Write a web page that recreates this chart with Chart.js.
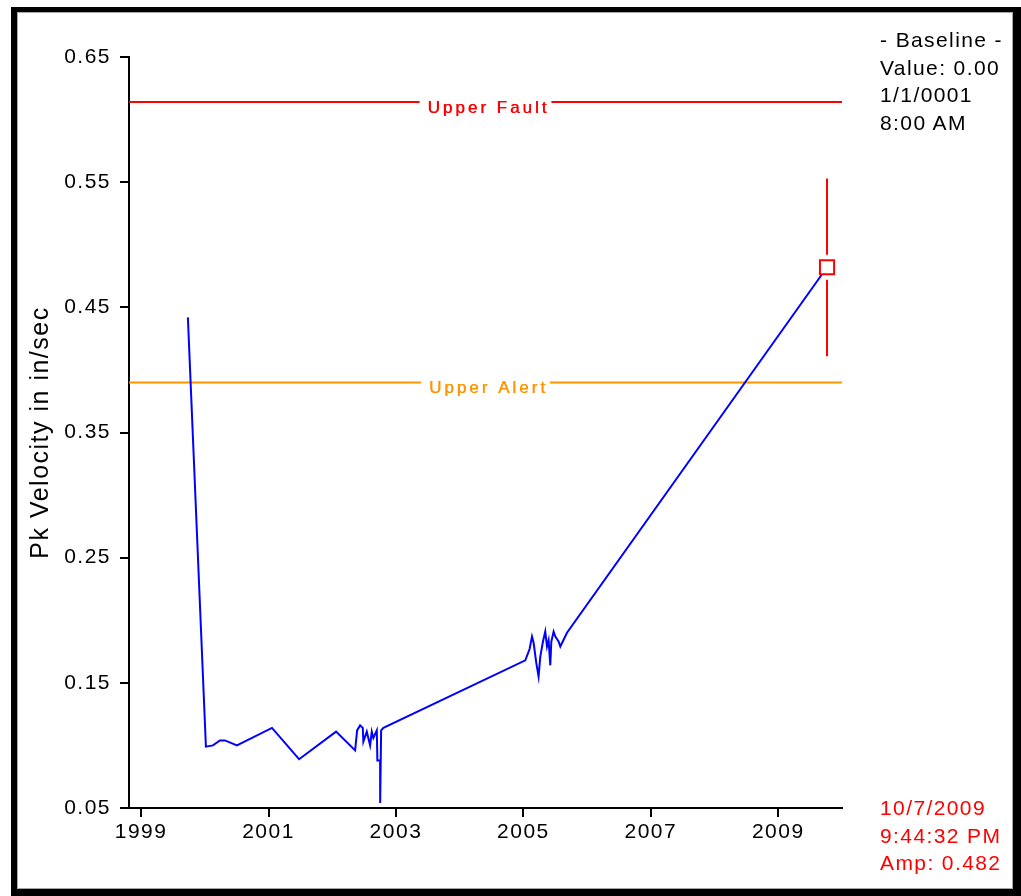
<!DOCTYPE html>
<html>
<head>
<meta charset="utf-8">
<script src="https://cdn.jsdelivr.net/npm/chart.js@4.4.0/dist/chart.umd.min.js"></script>
<style>
body { margin: 0; background: #fff; }
#wrap { position: relative; width: 1021px; height: 896px; overflow: hidden; }
#myChart { position: absolute; left: 0; top: 0; }
#frame {
    position: absolute; left: 11px; top: 7px; width: 1010px; height: 889px;
    box-sizing: border-box; border-style: solid; border-color: #000;
    border-width: 5px 8px 7px 6px; box-shadow: inset 0 0 0 1px #a8a8a8;
    pointer-events: none;
}
.side {
    position: absolute; left: 880px; font: 21px "Liberation Sans", Arial, sans-serif;
    letter-spacing: 1.4px; line-height: 27.5px; white-space: nowrap;
}
#baseline { top: 26px; color: #000; }
#cursorInfo { top: 794px; color: #ff0000; }
</style>
</head>
<body>
<div id="wrap">
    <canvas id="myChart" width="1021" height="896"></canvas>
    <div id="frame"></div>
    <div class="side" id="baseline">- Baseline -<br>Value: 0.00<br>1/1/0001<br>8:00 AM</div>
    <div class="side" id="cursorInfo">10/7/2009<br>9:44:32 PM<br>Amp: 0.482</div>
</div>
<script>
// axis ticks
var tickYears = [1999, 2001, 2003, 2005, 2007, 2009];
var tickAmps = [0.05, 0.15, 0.25, 0.35, 0.45, 0.55, 0.65];
var yearMin = 1998.81, yearMax = 2010.0;
var ampMin = 0.05, ampMax = 0.65;

// trend samples (decimal year, pk velocity)
var sampleYears = [
    1999.734, 2000.017, 2000.127, 2000.237, 2000.316, 2000.504, 2001.054, 2001.479,
    2002.060, 2002.359, 2002.390, 2002.437, 2002.479, 2002.488, 2002.542, 2002.594,
    2002.620, 2002.645, 2002.699, 2002.708, 2002.751, 2002.752, 2002.767, 2002.803,
    2005.030, 2005.097, 2005.135, 2005.160, 2005.202, 2005.238, 2005.265, 2005.307,
    2005.343, 2005.370, 2005.395, 2005.422, 2005.438, 2005.474, 2005.501, 2005.552,
    2005.579, 2005.684, 2009.765
];
var sampleAmps = [
    0.442, 0.099, 0.100, 0.104, 0.104, 0.100, 0.114, 0.089,
    0.111, 0.096, 0.112, 0.116, 0.114, 0.103, 0.111, 0.100,
    0.111, 0.106, 0.112, 0.088, 0.088, 0.054, 0.112, 0.114,
    0.168, 0.177, 0.187, 0.182, 0.166, 0.155, 0.171, 0.183,
    0.191, 0.179, 0.184, 0.164, 0.183, 0.191, 0.187, 0.183,
    0.179, 0.190, 0.482
];

// alarm levels
var faultLevel = 0.614;
var alertLevel = 0.390;

// cursor
var cursorYear = 2009.765;
var cursorAmp = 0.482;
var cursorLow = 0.411;
var cursorHigh = 0.553;

var fontFam = '"Liberation Sans", Arial, sans-serif';
var faultColor = '#ff0000';
var alertColor = '#ff9400';

const trendPoints = sampleYears.map((yr, i) => ({x: yr, y: sampleAmps[i]}));

// letter spacing for axis text
const spacing = {
    id: 'spacing',
    beforeDraw(chart) {
        chart.ctx.letterSpacing = '1.5px';
    }
};

// level labels sit on the lines
const levelLabels = {
    id: 'levelLabels',
    afterDatasetsDraw(chart) {
        const ctx = chart.ctx;
        const area = chart.chartArea;
        ctx.save();
        ctx.font = '17px ' + fontFam;
        ctx.letterSpacing = '3px';
        ctx.textAlign = 'center';
        ctx.textBaseline = 'middle';
        [['Upper Fault', faultLevel, faultColor], ['Upper Alert', alertLevel, alertColor]].forEach(function (l) {
            const y = chart.scales.y.getPixelForValue(l[1]);
            const x = (area.left + area.right) / 2;
            const w = ctx.measureText(l[0]).width + 10;
            ctx.fillStyle = '#fff';
            ctx.fillRect(x - w / 2, y - 3, w, 6);
            ctx.fillStyle = l[2];
            ctx.fillText(l[0], x + 3, y + 6);
            ctx.fillText(l[0], x + 3.4, y + 6);
        });
        ctx.restore();
    }
};

const ctx = document.getElementById('myChart').getContext('2d');
var myChart = new Chart(ctx, {
    type: 'line',
    data: {
        datasets: [{
            // cursor marker
            data: [{x: cursorYear, y: cursorAmp}],
            showLine: false,
            pointStyle: 'rect',
            pointRadius: 10,
            pointBorderWidth: 2,
            pointBorderColor: faultColor,
            pointBackgroundColor: '#fff',
            order: 0
        }, {
            data: trendPoints,
            borderColor: '#0000ff',
            borderWidth: 2,
            pointRadius: 0,
            tension: 0,
            order: 1
        }, {
            // cursor range bar
            data: [
                {x: cursorYear, y: cursorHigh}, {x: cursorYear, y: cursorAmp + 0.01},
                {x: cursorYear, y: null},
                {x: cursorYear, y: cursorAmp - 0.01}, {x: cursorYear, y: cursorLow}
            ],
            borderColor: faultColor,
            borderWidth: 2,
            pointRadius: 0,
            spanGaps: false,
            order: 2
        }, {
            data: [{x: yearMin, y: faultLevel}, {x: yearMax, y: faultLevel}],
            borderColor: faultColor,
            borderWidth: 2,
            pointRadius: 0,
            order: 3
        }, {
            data: [{x: yearMin, y: alertLevel}, {x: yearMax, y: alertLevel}],
            borderColor: alertColor,
            borderWidth: 2,
            pointRadius: 0,
            order: 3
        }]
    },
    options: {
        responsive: false,
        animation: false,
        layout: { padding: { left: 20, top: 57, right: 179, bottom: 40 } },
        plugins: { legend: { display: false }, tooltip: { enabled: false } },
        scales: {
            x: {
                type: 'linear',
                min: yearMin,
                max: yearMax,
                afterBuildTicks: s => { s.ticks = tickYears.map(v => ({value: v})); },
                afterFit: s => { s.height = 48; },
                border: { display: true, color: '#000', width: 2 },
                grid: { drawOnChartArea: false, drawTicks: true, tickLength: 9, color: '#000', lineWidth: 2 },
                ticks: {
                    color: '#000', padding: 3, autoSkip: false, maxRotation: 0,
                    font: { family: fontFam, size: 21 },
                    callback: v => String(v)
                }
            },
            y: {
                type: 'linear',
                min: ampMin,
                max: ampMax,
                afterBuildTicks: s => { s.ticks = tickAmps.map(v => ({value: v})); },
                afterFit: s => { s.width = 109; },
                border: { display: true, color: '#000', width: 2 },
                grid: { drawOnChartArea: false, drawTicks: true, tickLength: 9, color: '#000', lineWidth: 2 },
                ticks: {
                    color: '#000', padding: 9,
                    font: { family: fontFam, size: 21 },
                    callback: v => v.toFixed(2)
                },
                title: {
                    display: true, text: 'Pk Velocity in in/sec', color: '#000',
                    font: { family: fontFam, size: 25 }, padding: { top: 6, bottom: 0 }
                }
            }
        }
    },
    plugins: [spacing, levelLabels]
});
</script>
</body>
</html>
